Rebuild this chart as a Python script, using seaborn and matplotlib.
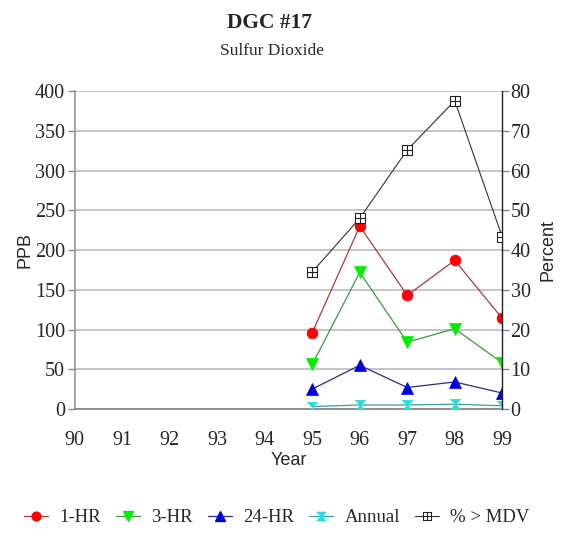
import matplotlib
matplotlib.use("Agg")
import matplotlib.pyplot as plt
import seaborn as sns
import numpy as np
import pandas as pd
from matplotlib.path import Path
from matplotlib.lines import Line2D

# Sulfur dioxide at station DGC #17
years = [95, 96, 97, 98, 99]
one_hr = [96, 230, 143, 187, 114]
three_hr = [56, 172, 84, 101, 58]
twentyfour_hr = [25, 55, 27, 34, 20]
annual = [3, 5, 5, 6, 4]
pct_mdv = [34.5, 48, 65.2, 77.6, 43.3]

year_ticks = list(range(90, 100))
ppb_ticks = list(range(0, 401, 50))
pct_ticks = list(range(0, 81, 10))

sns.set_theme(style="white")
serif = ["Liberation Serif", "DejaVu Serif"]
sans = ["Liberation Sans", "DejaVu Sans"]
plt.rcParams["font.family"] = serif

# custom marker shapes
hourglass = Path([(-1, 1), (1, 1), (-1, -1), (1, -1), (-1, 1)],
                 [Path.MOVETO, Path.LINETO, Path.LINETO, Path.LINETO, Path.CLOSEPOLY])
boxplus = Path(
    [(-1, -1), (1, -1), (1, 1), (-1, 1), (-1, -1),
     (0, -1), (0, 1), (-1, 0), (1, 0)],
    [Path.MOVETO, Path.LINETO, Path.LINETO, Path.LINETO, Path.CLOSEPOLY,
     Path.MOVETO, Path.LINETO, Path.MOVETO, Path.LINETO])

fig = plt.figure(figsize=(5.84, 5.46), dpi=100)
ax = fig.add_axes([0.128, 0.251, 0.732, 0.582])
ax2 = ax.twinx()

series = [
    ("1-HR", one_hr, "#a83a3a", "o", "#ff0000", 7.8),
    ("3-HR", three_hr, "#3c9a3c", "v", "#00ee00", 8),
    ("24-HR", twentyfour_hr, "#2a2a8a", "^", "#0000dd", 8),
    ("Annual", annual, "#3aa0a0", hourglass, "#20e0e0", 7.5),
]
handles = []
for name, vals, lc, mk, mc, ms in series:
    df = pd.DataFrame({"Year": years, "PPB": vals})
    sns.lineplot(data=df, x="Year", y="PPB", ax=ax, color=lc, lw=0.9,
                 marker=mk, markersize=ms, markerfacecolor=mc,
                 markeredgecolor=mc, markeredgewidth=0.5, zorder=3)
    handles.append(Line2D([], [], color=lc, lw=0.9, marker=mk, markersize=ms - 1.5,
                          markerfacecolor=mc, markeredgecolor=mc, label=name))

dfp = pd.DataFrame({"Year": years, "Percent": pct_mdv})
sns.lineplot(data=dfp, x="Year", y="Percent", ax=ax2, color="#333333", lw=0.8,
             marker=boxplus, markersize=7, markerfacecolor="white",
             markeredgecolor="#222222", markeredgewidth=0.8, zorder=3)
handles.append(Line2D([], [], color="#333333", lw=0.8, marker=boxplus, markersize=6,
                      markerfacecolor="white", markeredgecolor="#222222",
                      markeredgewidth=0.8, label="% > MDV"))

ax.set_xlim(90, 99)
ax.set_ylim(0, 400)
ax2.set_ylim(0, 80)
ax.set_xticks(year_ticks)
ax.set_xticklabels([str(y) for y in year_ticks])
ax.set_yticks(ppb_ticks)
ax2.set_yticks(pct_ticks)

ax.yaxis.grid(True, color="#b4b4b4", lw=1.1)
ax.set_axisbelow(True)
ax2.grid(False)

for a in (ax, ax2):
    for s in a.spines.values():
        s.set_visible(False)
ax.spines["left"].set_visible(True)
ax.spines["left"].set_color("#999999")
ax.spines["bottom"].set_visible(True)
ax.spines["bottom"].set_color("#888888")
ax.spines["bottom"].set_linewidth(1.3)
ax2.spines["right"].set_visible(True)
ax2.spines["right"].set_color("#222222")
ax2.spines["right"].set_linewidth(1.0)

ax.tick_params(axis="y", which="both", left=True, length=5, width=1,
               color="#888888", labelsize=14.5, pad=2)
ax.tick_params(axis="x", bottom=False, labelsize=14.5, pad=10)
ax2.tick_params(axis="y", right=True, length=5, width=1, color="#888888",
                labelsize=14.5, pad=1)
for lab in ax.get_xticklabels() + ax.get_yticklabels() + ax2.get_yticklabels():
    lab.set_fontfamily(serif)

ax.set_xlabel("Year", fontsize=13, family=sans, labelpad=1)
ax.set_ylabel("PPB", fontsize=13, family=sans, labelpad=1)
ax2.set_ylabel("Percent", fontsize=13, family=sans, labelpad=6)

fig.text(0.462, 0.958, "DGC #17", ha="center", va="center", fontsize=15.5,
         fontweight="bold", family=serif)
fig.text(0.466, 0.907, "Sulfur Dioxide", ha="center", va="center", fontsize=12.5,
         family=serif)

fig.legend(handles=handles, loc="center", bbox_to_anchor=(0.474, 0.052),
           ncol=5, frameon=False, handlelength=1.3,
           handletextpad=0.6, columnspacing=0.78,
           prop={"family": serif, "size": 13.5})

fig.savefig("out.png", dpi=100)
